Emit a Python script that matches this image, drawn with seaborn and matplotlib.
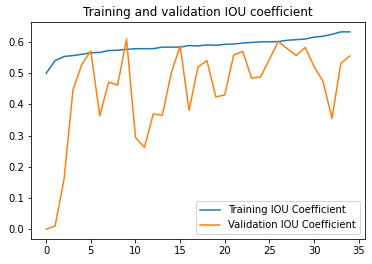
import matplotlib
matplotlib.use("Agg")
import matplotlib.pyplot as plt
import seaborn as sns
import pandas as pd

epochs = list(range(35))
train_iou = [0.500, 0.541, 0.554, 0.557, 0.561, 0.566, 0.567, 0.573, 0.574, 0.577,
             0.579, 0.579, 0.579, 0.584, 0.584, 0.584, 0.589, 0.588, 0.591, 0.590,
             0.593, 0.594, 0.597, 0.599, 0.601, 0.601, 0.602, 0.606, 0.608, 0.610,
             0.616, 0.619, 0.625, 0.633, 0.633]
val_iou = [0.000, 0.010, 0.160, 0.447, 0.529, 0.572, 0.364, 0.472, 0.462, 0.610,
           0.294, 0.262, 0.370, 0.365, 0.500, 0.588, 0.381, 0.520, 0.541, 0.424,
           0.431, 0.559, 0.570, 0.485, 0.488, 0.545, 0.602, 0.579, 0.557, 0.583,
           0.522, 0.474, 0.355, 0.532, 0.556]

df = pd.DataFrame({"epoch": epochs, "train": train_iou, "val": val_iou})

# Create the figure and axis
fig = plt.figure(figsize=(372 / 72, 264 / 72), dpi=72)
ax = fig.add_axes([31 / 372, 1 - 239 / 264, (365 - 31) / 372, (239 - 22) / 264])
sns.lineplot(data=df, x="epoch", y="train", ax=ax, label="Training IOU Coefficient")
sns.lineplot(data=df, x="epoch", y="val", ax=ax, label="Validation IOU Coefficient")
ax.set_title("Training and validation IOU coefficient")
ax.set_xlabel("")
ax.set_ylabel("")
ax.set_xticks([0, 5, 10, 15, 20, 25, 30, 35])
ax.legend(loc="lower right")
plt.grid(False)
plt.savefig("out.png", dpi=72)
